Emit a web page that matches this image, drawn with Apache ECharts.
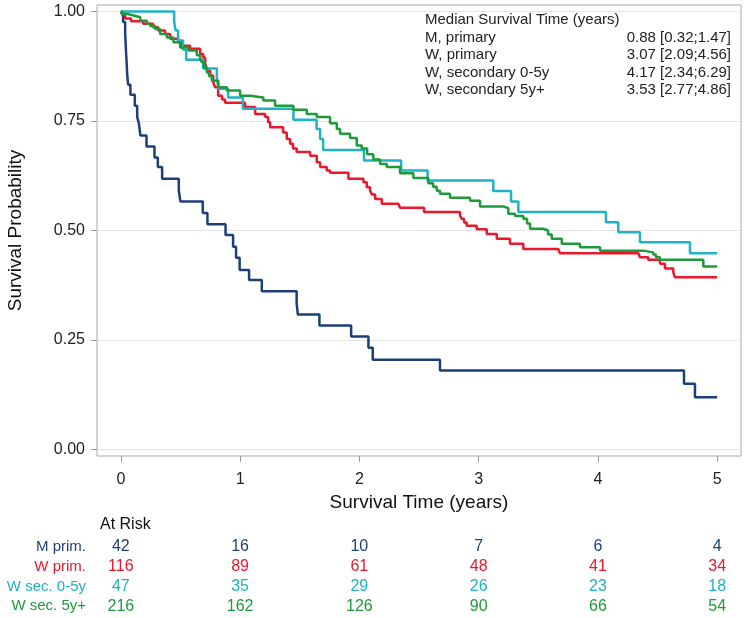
<!DOCTYPE html>
<html>
<head>
<meta charset="utf-8">
<script src="https://cdn.jsdelivr.net/npm/echarts@6/dist/echarts.min.js"></script>
<style>
  html, body { margin: 0; padding: 0; background: #fff; }
  #chart { width: 747px; height: 618px; }
</style>
</head>
<body>
<div id="chart"></div>
<script>
// Kaplan-Meier steps (time in years, survival probability)
const mTime = [0, 0.019, 0.036, 0.040, 0.044, 0.049, 0.053, 0.061, 0.080, 0.117, 0.137, 0.151, 0.164, 0.215, 0.282, 0.310, 0.346, 0.486, 0.500, 0.687, 0.726, 0.878, 0.941, 0.966, 0.996, 1.075, 1.182, 1.474, 1.484, 1.665, 1.931, 2.076, 2.112, 2.676, 4.722, 4.814, 5.0];
const mSurv = [1, 0.976, 0.952, 0.929, 0.905, 0.881, 0.857, 0.833, 0.810, 0.785, 0.759, 0.745, 0.717, 0.692, 0.667, 0.645, 0.618, 0.591, 0.566, 0.540, 0.514, 0.490, 0.463, 0.438, 0.410, 0.387, 0.361, 0.334, 0.308, 0.283, 0.258, 0.232, 0.205, 0.180, 0.150, 0.119, 0.119];

const wTime = [0, 0.011, 0.036, 0.086, 0.187, 0.271, 0.313, 0.371, 0.413, 0.480, 0.514, 0.581, 0.665, 0.690, 0.707, 0.723, 0.749, 0.774, 0.790, 0.816, 0.849, 0.874, 1.042, 1.126, 1.210, 1.235, 1.252, 1.361, 1.391, 1.419, 1.444, 1.475, 1.587, 1.643, 1.671, 1.727, 1.754, 1.908, 2.034, 2.062, 2.090, 2.106, 2.132, 2.188, 2.327, 2.341, 2.542, 2.844, 2.858, 2.878, 2.900, 2.984, 3.068, 3.152, 3.263, 3.375, 3.668, 3.682, 4.339, 4.353, 4.422, 4.521, 4.563, 4.632, 4.646, 5.0];
const wSurv = [1, 0.993, 0.984, 0.978, 0.972, 0.964, 0.957, 0.949, 0.938, 0.930, 0.922, 0.915, 0.903, 0.895, 0.881, 0.865, 0.854, 0.840, 0.827, 0.808, 0.799, 0.792, 0.782, 0.766, 0.759, 0.747, 0.736, 0.724, 0.709, 0.698, 0.687, 0.679, 0.671, 0.656, 0.645, 0.637, 0.632, 0.618, 0.610, 0.599, 0.591, 0.582, 0.572, 0.561, 0.557, 0.552, 0.542, 0.534, 0.527, 0.518, 0.511, 0.503, 0.492, 0.481, 0.470, 0.458, 0.454, 0.448, 0.444, 0.439, 0.433, 0.424, 0.413, 0.405, 0.393, 0.393];

const s05Time = [0, 0.447, 0.459, 0.480, 0.522, 0.548, 0.690, 0.805, 0.818, 0.899, 1.023, 1.447, 1.641, 1.671, 1.696, 2.039, 2.350, 2.572, 3.123, 3.272, 3.333, 4.068, 4.171, 4.353, 4.772, 5.0];
const s05Surv = [1, 0.977, 0.957, 0.934, 0.913, 0.890, 0.870, 0.847, 0.824, 0.804, 0.778, 0.753, 0.732, 0.709, 0.684, 0.660, 0.637, 0.614, 0.590, 0.566, 0.542, 0.519, 0.496, 0.473, 0.448, 0.448];

const s5Time = [0, 0.011, 0.050, 0.106, 0.162, 0.218, 0.246, 0.288, 0.329, 0.386, 0.441, 0.497, 0.567, 0.637, 0.665, 0.679, 0.698, 0.721, 0.740, 0.763, 0.818, 0.889, 1.000, 1.084, 1.195, 1.293, 1.447, 1.559, 1.643, 1.754, 1.811, 1.838, 1.922, 1.978, 2.020, 2.065, 2.117, 2.174, 2.230, 2.341, 2.453, 2.578, 2.618, 2.649, 2.676, 2.760, 2.928, 3.012, 3.207, 3.249, 3.305, 3.375, 3.406, 3.431, 3.542, 3.582, 3.613, 3.697, 3.850, 4.018, 4.381, 4.464, 4.487, 4.521, 4.884, 5.0];
const s5Surv = [1, 0.995, 0.991, 0.987, 0.979, 0.972, 0.967, 0.960, 0.949, 0.941, 0.930, 0.918, 0.911, 0.900, 0.893, 0.884, 0.873, 0.861, 0.852, 0.842, 0.827, 0.820, 0.808, 0.804, 0.797, 0.785, 0.776, 0.766, 0.759, 0.745, 0.732, 0.721, 0.711, 0.694, 0.687, 0.674, 0.662, 0.652, 0.645, 0.631, 0.620, 0.608, 0.600, 0.591, 0.584, 0.575, 0.568, 0.555, 0.551, 0.538, 0.533, 0.527, 0.516, 0.504, 0.500, 0.491, 0.481, 0.470, 0.462, 0.454, 0.450, 0.445, 0.439, 0.433, 0.418, 0.418];

// axis ticks
const yearTicks = [0, 1, 2, 3, 4, 5];
const probTicks = [0, 0.25, 0.5, 0.75, 1];

// number at risk table
const riskRows = ['M prim.', 'W prim.', 'W sec. 0-5y', 'W sec. 5y+'];
const riskM = [42, 16, 10, 7, 6, 4];
const riskW = [116, 89, 61, 48, 41, 34];
const riskS05 = [47, 35, 29, 26, 23, 18];
const riskS5 = [216, 162, 126, 90, 66, 54];

// median survival annotation
const medianTitle = 'Median Survival Time (years)';
const medianGroups = ['M, primary', 'W, primary', 'W, secondary 0-5y', 'W, secondary 5y+'];
const medianValues = ['0.88 [0.32;1.47]', '3.07 [2.09;4.56]', '4.17 [2.34;6.29]', '3.53 [2.77;4.86]'];

const colors = ['#1d3f78', '#e8192c', '#1fb1c4', '#1f9a3a'];
const textColors = ['#1f3f78', '#e8192c', '#1fb1c4', '#1f9a3a'];
const FONT = '"Liberation Sans", Arial, Helvetica, sans-serif';

const chart = echarts.init(document.getElementById('chart'), null, { renderer: 'canvas' });

const steps = (t, s) => t.map((v, i) => [v, s[i]]);

const curveData = [
  steps(mTime, mSurv),
  steps(wTime, wSurv),
  steps(s05Time, s05Surv),
  steps(s5Time, s5Surv),
];
const riskData = [riskM, riskW, riskS05, riskS5];

const lineSeries = curveData.map((d, i) => ({
  type: 'line',
  name: riskRows[i],
  step: 'end',
  xAxisIndex: 0,
  yAxisIndex: 0,
  showSymbol: false,
  symbol: 'none',
  data: d,
  lineStyle: { color: colors[i], width: 2.5 },
  z: 2 + i,
}));

const riskSeries = riskData.map((vals, i) => ({
  type: 'scatter',
  xAxisIndex: 1,
  yAxisIndex: 1,
  symbolSize: 1,
  itemStyle: { color: 'rgba(0,0,0,0)', opacity: 1 },
  data: vals.map((v, k) => [yearTicks[k], riskRows[i], v]),
  label: {
    show: true,
    position: 'inside',
    formatter: (p) => String(p.value[2]),
    color: textColors[i],
    opacity: 1,
    fontSize: 16,
    fontFamily: FONT,
  },
}));

const medianGraphics = [];
medianGraphics.push({
  type: 'text',
  z: 100,
  style: { x: 425, y: 20, text: medianTitle, font: '15px ' + FONT, fill: '#222', textVerticalAlign: 'middle' },
});
medianGroups.forEach((g, i) => {
  const y = 37.5 + i * 17.5;
  medianGraphics.push({
    type: 'text',
    z: 100,
    style: { x: 425, y: y, text: g, font: '15px ' + FONT, fill: '#222', textVerticalAlign: 'middle' },
  });
  medianGraphics.push({
    type: 'text',
    z: 100,
    style: { x: 731, y: y, text: medianValues[i], font: '15px ' + FONT, fill: '#222', textAlign: 'right', textVerticalAlign: 'middle' },
  });
});

const option = {
  animation: false,
  backgroundColor: '#ffffff',
  textStyle: { fontFamily: FONT },
  grid: [
    { left: 97, top: 5, width: 644, height: 451, outerBoundsMode: 'none', containLabel: false, show: true, borderColor: '#a6a6a6', borderWidth: 1, backgroundColor: 'transparent' },
    { left: 97, top: 537, width: 644, height: 79, outerBoundsMode: 'none', containLabel: false },
  ],
  xAxis: [
    {
      type: 'value',
      gridIndex: 0,
      min: -0.2,
      max: 5.2,
      name: 'Survival Time (years)',
      nameLocation: 'middle',
      nameGap: 34,
      nameTextStyle: { fontSize: 19, color: '#111', fontFamily: FONT },
      axisLine: { show: false, onZero: false },
      axisTick: { show: true, customValues: yearTicks, length: 6, lineStyle: { color: '#999' } },
      axisLabel: { customValues: yearTicks, fontSize: 16, color: '#222', margin: 16, fontFamily: FONT },
      splitLine: { show: false },
    },
    {
      type: 'value',
      gridIndex: 1,
      min: -0.2,
      max: 5.2,
      show: false,
    },
  ],
  yAxis: [
    {
      type: 'value',
      gridIndex: 0,
      min: -0.015,
      max: 1.015,
      name: 'Survival Probability',
      nameLocation: 'middle',
      nameGap: 72,
      nameTextStyle: { fontSize: 19, color: '#111', fontFamily: FONT },
      axisLine: { show: false, onZero: false },
      axisTick: { show: true, customValues: probTicks, length: 6, lineStyle: { color: '#999' } },
      axisLabel: {
        customValues: probTicks,
        fontSize: 16,
        color: '#222',
        margin: 12,
        fontFamily: FONT,
        formatter: (v) => v.toFixed(2),
      },
      splitLine: { show: true, lineStyle: { color: '#e4e4e4', width: 1 } },
    },
    {
      type: 'category',
      gridIndex: 1,
      inverse: true,
      data: riskRows,
      axisLine: { show: false },
      axisTick: { show: false },
      splitLine: { show: false },
      axisLabel: {
        margin: 11,
        fontSize: 15,
        fontFamily: FONT,
        color: (val, idx) => textColors[idx],
      },
    },
  ],
  graphic: [
    ...medianGraphics,
    {
      type: 'text',
      z: 100,
      style: { x: 100, y: 525, text: 'At Risk', font: '16px ' + FONT, fill: '#111', textVerticalAlign: 'middle' },
    },
  ],
  series: [...lineSeries, ...riskSeries],
};

chart.setOption(option);
window.addEventListener('resize', () => chart.resize());
</script>
</body>
</html>
